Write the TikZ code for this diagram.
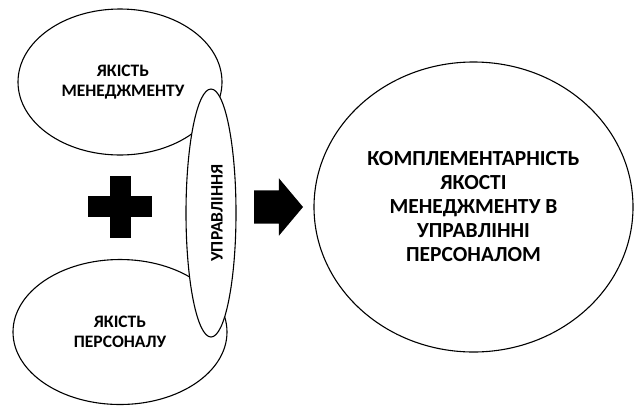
\documentclass[tikz,border=0pt]{standalone}
\usepackage{fontspec}
\setmainfont{Carlito}
\usetikzlibrary{shapes,shapes.arrows,positioning}

\begin{document}
\begin{tikzpicture}[x=1pt, y=-1pt,
  oval/.style={draw, ellipse, line width=1.1pt, fill=white, inner sep=0pt, align=center,
    font=\bfseries\fontsize{17.5}{20}\selectfont},
  bigoval/.style={oval, font=\bfseries\fontsize{21.5}{24}\selectfont},
  blockarrow/.style={single arrow, fill=black, draw=none, inner xsep=0pt, inner ysep=16.5pt,
    single arrow head extend=12pt, single arrow tip angle=100}]
\useasboundingbox (0,0) rectangle (639,408);
%Two qualities
\node[oval, minimum width=204pt, minimum height=146pt] (mgmt) at (120,82) {\hspace*{6pt}ЯКІСТЬ\\\hspace*{6pt}МЕНЕДЖМЕНТУ};
\node[oval, minimum width=214pt, minimum height=145pt] (staff) at (120,332) {ЯКІСТЬ\\ПЕРСОНАЛУ};
\node[oval, rotate=90, minimum width=248pt, minimum height=50pt] (ctrl) at (211,213)
  {\raisebox{-6pt}[\height][\depth]{УПРАВЛІННЯ}};
%Plus
\fill (110,176) rectangle (131,238);
\fill (88,196) rectangle (152,217);
%Result
\node[blockarrow, minimum height=49pt] (go) at (271.5,207) {};
\node[bigoval, minimum width=319pt, minimum height=290pt] (result) at (473.5,207)
  {КОМПЛЕМЕНТАРНІСТЬ\\ЯКОСТІ\\МЕНЕДЖМЕНТУ В\\УПРАВЛІННІ\\ПЕРСОНАЛОМ};
\end{tikzpicture}
\end{document}
